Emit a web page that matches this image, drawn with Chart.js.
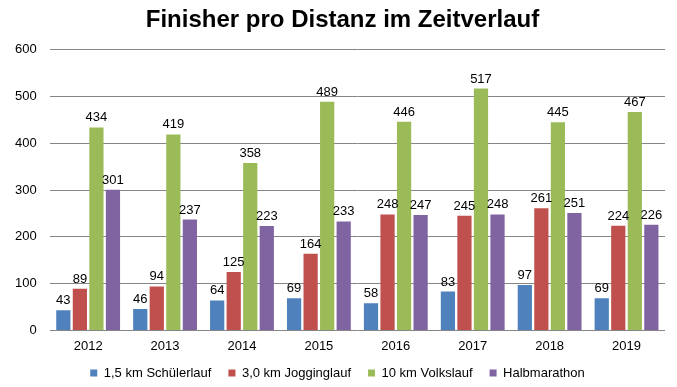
<!DOCTYPE html>
<html>
<head>
<meta charset="utf-8">
<script src="https://cdn.jsdelivr.net/npm/chart.js@4"></script>
<style>
  html, body { margin: 0; padding: 0; background: #fff; }
  #wrap { width: 677px; height: 387px; }
</style>
</head>
<body>
<div id="wrap"><canvas id="chart"></canvas></div>
<script>
var years = ['2012', '2013', '2014', '2015', '2016', '2017', '2018', '2019'];
var schueler = [43, 46, 64, 69, 58, 83, 97, 69];
var jogging = [89, 94, 125, 164, 248, 245, 261, 224];
var volkslauf = [434, 419, 358, 489, 446, 517, 445, 467];
var halbmarathon = [301, 237, 223, 233, 247, 248, 251, 226];
var yTicks = [0, 100, 200, 300, 400, 500, 600];

var FONT = '"Liberation Sans", Arial, sans-serif';

// Werte über die Balken schreiben
var valueLabels = {
  id: 'valueLabels',
  afterDatasetsDraw: function(chart) {
    var ctx = chart.ctx;
    ctx.save();
    ctx.font = '13px ' + FONT;
    ctx.fillStyle = '#000';
    ctx.textAlign = 'center';
    ctx.textBaseline = 'alphabetic';
    chart.data.datasets.forEach(function(ds, i) {
      chart.getDatasetMeta(i).data.forEach(function(bar, j) {
        ctx.fillText(ds.data[j], bar.x, bar.y - 6);
      });
    });
    ctx.restore();
  }
};

// Legende flacher machen und Titel/Legende etwas verschieben
var blockFit = {
  id: 'blockFit',
  afterInit: function(chart) {
    var lg = chart.legend;
    var orig = lg.fit;
    lg.fit = function() { orig.call(lg); lg.height = 25; };
  },
  afterLayout: function(chart) {
    var lg = chart.legend, tb = chart.titleBlock;
    lg.top -= 12.5;
    lg.bottom = chart.height;
    lg.left += 4; lg.right += 4;
    tb.left += 9; tb.right += 9;
  }
};

function ds(label, data, color) {
  return { label: label, data: data, backgroundColor: color, borderWidth: 0,
           categoryPercentage: 0.86, barPercentage: 0.86 };
}

new Chart(document.getElementById('chart'), {
  type: 'bar',
  data: {
    labels: years,
    datasets: [
      ds('1,5 km Schülerlauf', schueler, '#4F81BD'),
      ds('3,0 km Jogginglauf', jogging, '#C0504D'),
      ds('10 km Volkslauf', volkslauf, '#9BBB59'),
      ds('Halbmarathon', halbmarathon, '#8064A2')
    ]
  },
  options: {
    responsive: true,
    maintainAspectRatio: false,
    animation: false,
    layout: { padding: { left: 2, right: 12, top: 0, bottom: 0 } },
    plugins: {
      title: {
        display: true,
        text: 'Finisher pro Distanz im Zeitverlauf',
        color: '#000',
        font: { family: FONT, size: 24, weight: 'bold' },
        padding: { top: 6, bottom: 15 }
      },
      legend: {
        position: 'bottom',
        labels: {
          color: '#000',
          boxWidth: 7, boxHeight: 7,
          padding: 17,
          font: { family: FONT, size: 13 }
        }
      },
      tooltip: { enabled: false }
    },
    scales: {
      x: {
        grid: { display: false, drawTicks: false },
        border: { display: false },
        ticks: { color: '#000', padding: 8, font: { family: FONT, size: 13 } }
      },
      y: {
        min: 0, max: 600,
        afterBuildTicks: function(axis) { axis.ticks = yTicks.map(function(v) { return { value: v }; }); },
        grid: { color: '#868686', drawTicks: false },
        border: { display: false },
        ticks: { color: '#000', padding: 13, font: { family: FONT, size: 13 } }
      }
    }
  },
  plugins: [valueLabels, blockFit]
});
</script>
</body>
</html>
